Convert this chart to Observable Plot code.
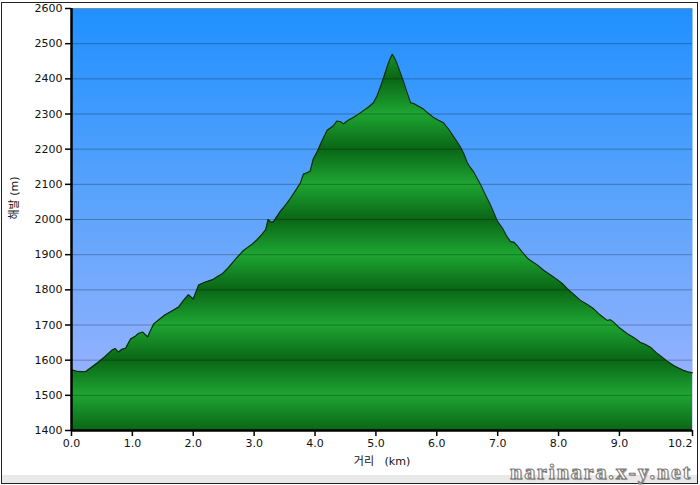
<!DOCTYPE html>
<html><head><meta charset="utf-8">
<script src="https://cdn.jsdelivr.net/npm/d3@7"></script>
<script src="https://cdn.jsdelivr.net/npm/@observablehq/plot@0.6"></script>
<style>
body{margin:0;background:#fff;}
#wrap{position:relative;width:700px;height:485px;overflow:hidden;background:#fff;}
#strip{position:absolute;left:2px;top:475px;width:696px;height:8px;background:#e9e9e9;}
#border{position:absolute;left:1px;top:2px;width:695px;height:480px;border:1px solid #222;pointer-events:none;}
#wm{position:absolute;left:510px;top:459px;font:bold 22px "Liberation Serif",serif;color:#fff;-webkit-text-stroke:1px #7a7a7a;letter-spacing:1.9px;white-space:nowrap;text-shadow:1px 1px 1px rgba(0,0,0,0.25);}
#chart{position:absolute;left:0;top:0;}
</style></head>
<body>
<div id="wrap">
<div id="strip"></div>
<div id="chart"></div>
<div id="border"></div>
<div id="wm">narinara.x-y.net</div>
</div>
<script>
const km = [0.00,0.10,0.23,0.33,0.44,0.55,0.67,0.72,0.77,0.83,0.89,0.97,1.05,1.10,1.17,1.21,1.25,1.30,1.35,1.45,1.54,1.65,1.76,1.84,1.92,2.00,2.09,2.20,2.32,2.40,2.48,2.57,2.66,2.74,2.82,2.89,2.97,3.05,3.12,3.19,3.23,3.28,3.32,3.43,3.52,3.60,3.68,3.76,3.81,3.87,3.92,3.97,4.04,4.09,4.15,4.20,4.30,4.36,4.42,4.47,4.55,4.63,4.71,4.79,4.88,4.96,5.02,5.07,5.13,5.19,5.23,5.27,5.31,5.35,5.40,5.45,5.51,5.57,5.62,5.70,5.78,5.86,5.94,6.02,6.11,6.19,6.27,6.33,6.39,6.45,6.50,6.55,6.60,6.66,6.72,6.80,6.88,6.94,7.00,7.08,7.14,7.21,7.27,7.32,7.40,7.49,7.57,7.65,7.76,7.87,7.98,8.06,8.14,8.25,8.36,8.46,8.57,8.68,8.80,8.85,8.90,9.00,9.13,9.24,9.34,9.42,9.51,9.60,9.67,9.78,9.89,9.97,10.05,10.12,10.20];
const elev = [1573,1568,1567,1580,1594,1610,1629,1633,1623,1631,1634,1660,1668,1676,1680,1673,1666,1685,1703,1717,1729,1740,1751,1770,1786,1774,1814,1822,1829,1838,1846,1862,1880,1896,1911,1920,1930,1943,1956,1971,2000,1992,1994,2023,2042,2061,2082,2104,2129,2133,2137,2171,2194,2214,2236,2254,2266,2280,2278,2272,2283,2290,2299,2309,2320,2332,2352,2375,2405,2437,2456,2470,2458,2442,2418,2394,2362,2332,2330,2322,2314,2302,2291,2283,2275,2258,2237,2222,2206,2185,2162,2148,2137,2118,2099,2070,2042,2018,1994,1975,1955,1937,1935,1926,1908,1890,1880,1871,1855,1842,1829,1818,1804,1787,1770,1760,1747,1729,1713,1715,1709,1692,1675,1664,1651,1645,1637,1622,1613,1598,1585,1578,1571,1567,1564];
const yTicks = [1400,1500,1600,1700,1800,1900,2000,2100,2200,2300,2400,2500,2600];
const xTicks = [0,1,2,3,4,5,6,7,8,9];
const xEndTick = [10.2];
const xLabel = "거리\u00a0\u00a0\u00a0(km)";
const yLabel = "해발 (m)";

const data = km.map((k, i) => ({km: k, elev: elev[i]}));
const font = "DejaVu Sans, Noto Sans CJK KR, sans-serif";

const plot = Plot.plot({
  width: 700, height: 485,
  marginLeft: 71, marginRight: 8, marginTop: 8, marginBottom: 55,
  x: {domain: [0, 10.2]},
  y: {domain: [1400, 2600]},
  style: {fontFamily: font, fontSize: "11px", color: "#111", background: "transparent"},
  marks: [
    Plot.frame({fill: "url(#sky)", stroke: null}),
    Plot.areaY(data, {x: "km", y1: 1400, y2: "elev", fill: "url(#bands)"}),
    Plot.gridY(yTicks, {stroke: "#000", strokeOpacity: 0.28, strokeWidth: 1}),
    Plot.lineY(data, {x: "km", y: "elev", stroke: "#0a2a12", strokeWidth: 1.1}),
    Plot.axisY(yTicks, {tickSize: 6, tickPadding: 3, label: null, tickFormat: d => String(d), fontSize: 11, stroke: "#000", strokeWidth: 1.5}),
    Plot.axisX(xTicks, {tickSize: 6, tickPadding: 3, label: null, tickFormat: d => d.toFixed(1), fontSize: 11, stroke: "#000", strokeWidth: 1.5}),
    Plot.axisX(xEndTick, {tickSize: 6, tickPadding: 3, label: null, tickFormat: d => d.toFixed(1), fontSize: 11, textAnchor: "end", stroke: "#000", strokeWidth: 1.5}),
    Plot.ruleX([0], {stroke: "#000", strokeWidth: 2.5}),
    Plot.ruleY([1400], {stroke: "#000", strokeWidth: 2.5}),
    Plot.text([xLabel], {frameAnchor: "bottom", dy: 34, fontSize: 11, fill: "#111"}),
    Plot.text([yLabel], {frameAnchor: "left", dx: -57, rotate: -90, fontSize: 11, fill: "#111"})
  ]
});

const svg = d3.select(plot);
const ys = plot.scale("y");
const yTop = ys.apply(2600);
const bandH = 2 * (ys.apply(2500) - ys.apply(2600));
const defs = svg.insert("defs", ":first-child");
const sky = defs.append("linearGradient").attr("id", "sky")
  .attr("x1", 0).attr("y1", 0).attr("x2", 0).attr("y2", 1);
sky.append("stop").attr("offset", "0%").attr("stop-color", "#2090ff");
sky.append("stop").attr("offset", "45%").attr("stop-color", "#5aa3fc");
sky.append("stop").attr("offset", "100%").attr("stop-color", "#a6b6ff");
const band = defs.append("linearGradient").attr("id", "band")
  .attr("x1", 0).attr("y1", 0).attr("x2", 0).attr("y2", 1);
band.append("stop").attr("offset", "0%").attr("stop-color", "#0a6616");
band.append("stop").attr("offset", "50%").attr("stop-color", "#1ea532");
band.append("stop").attr("offset", "100%").attr("stop-color", "#0a6616");
const pat = defs.append("pattern").attr("id", "bands")
  .attr("patternUnits", "userSpaceOnUse")
  .attr("x", 0).attr("y", yTop).attr("width", 700).attr("height", bandH);
pat.append("rect").attr("width", 700).attr("height", bandH).attr("fill", "url(#band)");

document.getElementById("chart").appendChild(plot);
</script>
</body></html>
